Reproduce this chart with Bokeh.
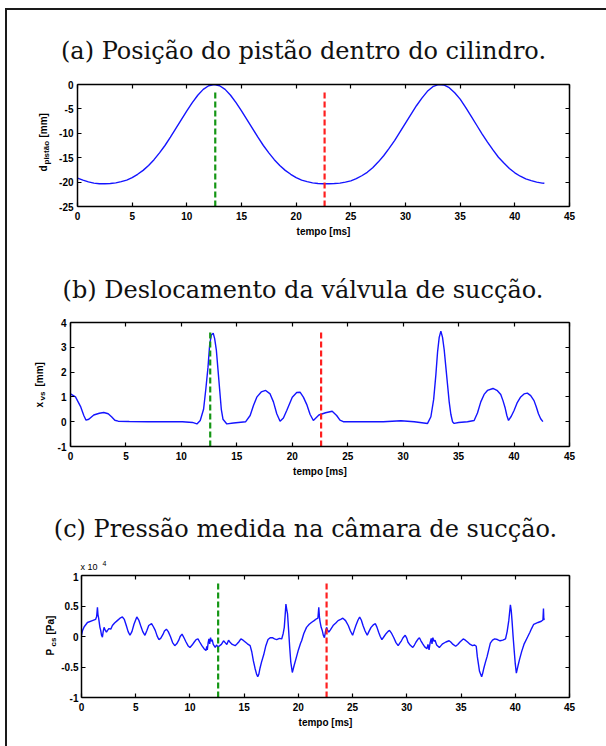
import math

from bokeh.plotting import figure
from bokeh.models import LinearAxis, FixedTicker, CustomJSTickFormatter, Range1d
from bokeh.layouts import column, row
from bokeh.core.properties import value
from bokeh.embed import file_html
from bokeh.resources import INLINE

# ---------------- data ----------------
# (a) piston position [mm] versus time [ms]
T_A = [0.0, 0.5, 1.0, 1.5, 2.0, 2.5, 3.0, 3.5, 4.0, 4.5, 5.0, 5.5, 6.0, 6.5, 7.0, 7.5,
       8.0, 8.5, 9.0, 9.5, 10.0, 10.5, 11.0, 11.5, 12.0, 12.5, 13.0, 13.5, 14.0, 14.5,
       15.0, 15.5, 16.0, 16.5, 17.0, 17.5, 18.0, 18.5, 19.0, 19.5, 20.0, 20.5, 21.0,
       21.5, 22.0, 22.5, 23.0, 23.5, 24.0, 24.5, 25.0, 25.5, 26.0, 26.5, 27.0, 27.5,
       28.0, 28.5, 29.0, 29.5, 30.0, 30.5, 31.0, 31.5, 32.0, 32.5, 33.0, 33.5, 34.0,
       34.5, 35.0, 35.5, 36.0, 36.5, 37.0, 37.5, 38.0, 38.5, 39.0, 39.5, 40.0, 40.5,
       41.0, 41.5, 42.0, 42.5, 42.7]
D_PISTAO = [-19.2, -19.6, -19.95, -20.2, -20.35, -20.35, -20.3, -20.15, -19.9, -19.6,
            -19.1, -18.4, -17.6, -16.6, -15.4, -14.0, -12.5, -10.8, -9.0, -7.2, -5.4,
            -3.7, -2.2, -1.0, -0.25, 0.0, -0.25, -1.0, -2.2, -3.7, -5.4, -7.2, -9.0,
            -10.8, -12.5, -14.0, -15.4, -16.6, -17.6, -18.4, -19.1, -19.6, -19.9,
            -20.15, -20.3, -20.35, -20.35, -20.3, -20.2, -20.0, -19.75, -19.3, -18.7,
            -18.0, -17.05, -15.9, -14.6, -13.1, -11.5, -9.7, -7.9, -6.1, -4.35, -2.8,
            -1.4, -0.45, -0.03, -0.1, -0.65, -1.7, -3.0, -4.7, -6.5, -8.3, -10.1,
            -11.8, -13.4, -14.9, -16.1, -17.2, -18.1, -18.8, -19.35, -19.7, -20.0,
            -20.2, -20.25]

# (b) suction valve displacement [mm]
T_B = [0.0, 0.45, 0.9, 1.2, 1.4, 1.65, 2.1, 2.6, 3.0, 3.4, 3.7, 4.0, 4.3, 5.3, 7.0,
       9.0, 10.1, 11.0, 11.4, 11.7, 12.0, 12.2, 12.4, 12.55, 12.7, 12.87, 13.0, 13.15,
       13.3, 13.45, 13.6, 13.75, 14.1, 14.7, 15.8, 16.2, 16.5, 16.8, 17.2, 17.6, 18.0,
       18.3, 18.6, 18.9, 19.2, 19.5, 20.0, 20.4, 20.7, 21.0, 21.3, 21.6, 21.9, 22.4,
       23.0, 23.6, 24.0, 24.3, 24.6, 26.0, 28.2, 29.8, 31.0, 32.2, 32.5, 32.75, 32.95,
       33.1, 33.25, 33.4, 33.55, 33.7, 33.85, 34.0, 34.15, 34.3, 34.45, 34.6, 35.0,
       35.8, 36.4, 36.7, 37.0, 37.3, 37.6, 38.1, 38.5, 38.8, 39.0, 39.2, 39.35, 39.5,
       39.75, 40.0, 40.3, 40.6, 40.9, 41.2, 41.5, 41.8, 42.0, 42.2, 42.4, 42.6]
X_VS = [1.12, 1.0, 0.62, 0.25, 0.06, 0.1, 0.27, 0.34, 0.37, 0.32, 0.2, 0.06, 0.02,
        0.01, 0.0, 0.0, 0.0, -0.03, -0.09, 0.05, 0.5, 1.3, 2.2, 3.1, 3.5, 3.57, 3.35,
        2.9, 2.1, 1.3, 0.5, 0.1, -0.09, -0.05, 0.0, 0.25, 0.65, 0.99, 1.2, 1.26, 1.12,
        0.8, 0.32, 0.02, 0.15, 0.45, 0.99, 1.18, 1.19, 0.99, 0.7, 0.3, 0.05, 0.27,
        0.36, 0.42, 0.25, 0.06, 0.0, 0.0, 0.0, 0.04, 0.0, -0.07, 0.2, 0.9, 1.9, 2.8,
        3.4, 3.65, 3.4, 2.9, 2.2, 1.5, 0.8, 0.3, 0.0, -0.07, -0.03, 0.0, 0.05, 0.35,
        0.8, 1.1, 1.26, 1.34, 1.25, 1.1, 0.85, 0.55, 0.25, 0.05, 0.22, 0.45, 0.78,
        1.0, 1.12, 1.15, 1.05, 0.85, 0.6, 0.32, 0.12, 0.0]

# (c) pressure in the suction chamber [x 10^4 Pa]
T_C = [0.0, 0.1, 0.25, 0.55, 1.0, 1.3, 1.4, 1.47, 1.52, 1.58, 1.7, 1.77, 1.85, 1.93,
       2.0, 2.08, 2.2, 2.3, 2.4, 2.54, 2.7, 2.85, 3.05, 3.3, 3.55, 3.77, 3.95, 4.13,
       4.3, 4.47, 4.65, 4.84, 5.1, 5.28, 5.45, 5.65, 5.85, 6.03, 6.2, 6.46, 6.63, 6.8,
       6.97, 7.13, 7.3, 7.5, 7.65, 7.83, 8.0, 8.2, 8.4, 8.6, 8.78, 8.97, 9.1, 9.27,
       9.45, 9.64, 9.82, 10.0, 10.2, 10.4, 10.57, 10.74, 10.9, 11.1, 11.3, 11.48,
       11.55, 11.6, 11.68, 11.75, 11.82, 11.9, 11.98, 12.05, 12.15, 12.33, 12.45,
       12.58, 12.75, 12.9, 13.1, 13.25, 13.4, 13.56, 13.72, 13.9, 14.17, 14.35, 14.5,
       14.7, 14.9, 15.1, 15.3, 15.55, 15.7, 15.85, 16.0, 16.15, 16.25, 16.35, 16.46,
       16.6, 16.8, 17.0, 17.2, 17.4, 17.6, 17.8, 18.0, 18.25, 18.46, 18.6, 18.7,
       18.78, 18.85, 18.92, 19.0, 19.1, 19.2, 19.3, 19.44, 19.6, 19.8, 20.0, 20.2,
       20.3, 20.5, 20.75, 21.0, 21.2, 21.45, 21.67, 21.8, 21.88, 21.95, 22.0, 22.1,
       22.2, 22.3, 22.4, 22.5, 22.6, 22.7, 22.8, 22.95, 23.2, 23.45, 23.66, 23.9,
       24.1, 24.35, 24.6, 24.8, 25.0, 25.15, 25.3, 25.5, 25.65, 25.8, 25.96, 26.15,
       26.35, 26.5, 26.7, 26.9, 27.1, 27.25, 27.4, 27.55, 27.7, 27.9, 28.1, 28.25,
       28.4, 28.6, 28.8, 29.0, 29.2, 29.35, 29.5, 29.65, 29.85, 30.0, 30.1, 30.3,
       30.55, 30.7, 30.85, 31.0, 31.16, 31.3, 31.47, 31.65, 31.86, 31.95, 32.05,
       32.15, 32.25, 32.32, 32.4, 32.5, 32.6, 32.75, 33.0, 33.15, 33.3, 33.6, 33.9,
       34.05, 34.2, 34.5, 34.7, 34.9, 35.2, 35.4, 35.6, 35.85, 36.06, 36.25, 36.4,
       36.5, 36.6, 36.7, 36.9, 37.0, 37.1, 37.25, 37.4, 37.55, 37.7, 37.9, 38.1,
       38.35, 38.6, 38.85, 39.1, 39.25, 39.4, 39.55, 39.63, 39.7, 39.8, 39.9, 40.0,
       40.1, 40.25, 40.4, 40.6, 40.8, 41.1, 41.35, 41.5, 41.7, 42.1, 42.4, 42.55,
       42.6, 42.63, 42.66]
P_CS = [0.02, 0.1, 0.16, 0.23, 0.26, 0.28, 0.33, 0.48, 0.36, 0.3, 0.15, 0.1, 0.02,
        -0.01, 0.08, 0.15, 0.1, 0.07, 0.1, 0.13, 0.12, 0.18, 0.22, 0.26, 0.3, 0.32,
        0.28, 0.18, 0.08, 0.02, 0.08, 0.2, 0.32, 0.27, 0.18, 0.08, 0.02, 0.1, 0.18,
        0.21, 0.16, 0.1, 0.01, -0.05, -0.03, 0.03, 0.09, 0.12, 0.08, 0.0, -0.1, -0.15,
        -0.12, -0.06, 0.0, 0.04, -0.02, -0.09, -0.15, -0.18, -0.14, -0.09, -0.05,
        -0.04, -0.09, -0.15, -0.2, -0.23, -0.16, -0.22, -0.1, -0.04, -0.12, -0.02,
        -0.08, -0.05, -0.13, -0.18, -0.14, -0.17, -0.15, -0.13, -0.07, -0.1, -0.13,
        -0.06, -0.1, -0.13, -0.15, -0.12, -0.09, -0.04, -0.06, -0.09, -0.12, -0.15,
        -0.25, -0.4, -0.52, -0.62, -0.66, -0.62, -0.52, -0.42, -0.3, -0.15, -0.05,
        -0.02, -0.02, -0.04, -0.05, -0.03, -0.04, 0.05, 0.15, 0.35, 0.53, 0.45, 0.37,
        0.1, -0.18, -0.42, -0.59, -0.48, -0.35, -0.22, -0.11, -0.07, 0.05, 0.15, 0.2,
        0.23, 0.26, 0.29, 0.3, 0.48, 0.3, 0.24, 0.15, 0.1, 0.02, -0.02, 0.08, 0.15,
        0.1, 0.07, 0.11, 0.18, 0.22, 0.26, 0.28, 0.3, 0.26, 0.18, 0.09, 0.02, 0.1,
        0.18, 0.27, 0.32, 0.27, 0.18, 0.09, 0.02, 0.08, 0.15, 0.19, 0.21, 0.15, 0.07,
        0.0, -0.05, 0.0, 0.05, 0.08, 0.1, 0.05, -0.02, -0.1, -0.15, -0.11, -0.07,
        -0.02, 0.02, -0.03, -0.09, -0.14, -0.18, -0.14, -0.09, -0.05, -0.02, -0.07,
        -0.12, -0.17, -0.2, -0.13, -0.22, -0.1, -0.03, -0.12, -0.02, -0.08, -0.06,
        -0.14, -0.18, -0.15, -0.12, -0.09, -0.07, -0.09, -0.12, -0.16, -0.13, -0.09,
        -0.04, -0.06, -0.09, -0.13, -0.15, -0.14, -0.16, -0.33, -0.45, -0.57, -0.66,
        -0.6, -0.52, -0.42, -0.33, -0.22, -0.11, -0.06, -0.04, -0.05, -0.07, -0.06,
        -0.04, 0.08, 0.26, 0.52, 0.42, 0.26, 0.0, -0.23, -0.45, -0.6, -0.48, -0.37,
        -0.24, -0.13, -0.02, 0.07, 0.13, 0.2, 0.23, 0.25, 0.27, 0.46, 0.3, 0.27]

# instants marked by the vertical dashed lines [ms]
T_MARK_GREEN = 12.6
T_MARK_RED = 22.6

X_TICKS = [0, 5, 10, 15, 20, 25, 30, 35, 40, 45]
A_YTICKS = [-25, -20, -15, -10, -5, 0]
B_YTICKS = [-1, 0, 1, 2, 3, 4]
C_YTICKS = [-1, -0.5, 0, 0.5, 1]

TITLES = ["(a) Posição do pistão dentro do cilindro.",
          "(b) Deslocamento da válvula de sucção.",
          "(c) Pressão medida na câmara de sucção."]

# ---------------- styling ----------------
BLUE = "#1414ff"
GREEN = "#149614"
RED = "#ff1f1f"
SANS = "Liberation Sans"
SERIF = "DejaVu Serif"
TOTAL_W = 599
UP = math.pi / 2


class Strip:
    """Axis-less figure used to place text; positions are pixels from the frame's top-left.

    span is the pixel height of the frame (a strip sitting in a row shares the
    vertical extent of its neighbour's frame)."""

    def __init__(self, width, height, span):
        self.span = span
        self.fig = figure(width=width, height=height, x_range=Range1d(0, width),
                          y_range=Range1d(0, span), min_border=0, title=None,
                          output_backend="svg", toolbar_location=None,
                          x_axis_location=None, y_axis_location=None,
                          background_fill_color="white", border_fill_color="white")
        self.fig.outline_line_color = None
        self.fig.grid.visible = False

    def text(self, x, y_down, txt, **kw):
        self.fig.text(x=[x], y=[self.span - y_down], text=[txt], text_baseline="middle",
                      text_color=kw.pop("text_color", "black"), **kw)


def title_strip(height, title, cx, cy):
    s = Strip(TOTAL_W, height, height)
    s.text(cx, cy, title, text_align="center", text_font=value(SERIF),
           text_font_size="24px", text_color="#111111")
    return s


def ylabel_strip(width, height, frame_h, pieces):
    s = Strip(width, height, frame_h)
    for txt, x, y, size in pieces:
        s.text(x, y, txt, angle=UP, text_align="left", text_font=value(SANS),
               text_font_style="bold", text_font_size=size)
    return s


def panel(width, height, borders, yrange, yticks, ystandoff):
    left, right, top, bottom = borders
    p = figure(width=width, height=height, x_range=Range1d(0, 45), y_range=Range1d(*yrange),
               min_border_left=left, min_border_right=right, min_border_top=top,
               min_border_bottom=bottom, title=None, output_backend="svg",
               toolbar_location=None, background_fill_color="white",
               border_fill_color="white")
    p.outline_line_color = None
    p.grid.visible = False
    fmt = CustomJSTickFormatter(code="return String(tick)")
    p.xaxis[0].formatter = fmt
    p.yaxis[0].formatter = fmt
    p.xaxis.ticker = FixedTicker(ticks=X_TICKS)
    p.yaxis.ticker = FixedTicker(ticks=yticks)
    p.add_layout(LinearAxis(ticker=FixedTicker(ticks=X_TICKS)), "above")
    p.add_layout(LinearAxis(ticker=FixedTicker(ticks=yticks)), "right")
    for ax in p.axis:
        ax.axis_line_color = "black"
        ax.axis_line_width = 1.5
        ax.major_tick_line_color = "black"
        ax.major_tick_line_width = 1.2
        ax.major_tick_in = 4
        ax.major_tick_out = 0
        ax.minor_tick_line_color = None
        ax.major_label_text_font = SANS
        ax.major_label_text_font_style = "bold"
        ax.major_label_text_font_size = "10px"
        ax.major_label_text_color = "black"
    for ax in p.above + p.right:
        ax.major_label_text_color = None
        ax.major_label_text_font_size = "0px"
        ax.major_label_standoff = 0
    p.xaxis[0].major_label_standoff = 6
    p.yaxis[0].major_label_standoff = ystandoff
    xb = p.below[0]
    xb.axis_label = "tempo [ms]"
    xb.axis_label_text_font = SANS
    xb.axis_label_text_font_style = "bold"
    xb.axis_label_text_font_size = "10px"
    xb.axis_label_text_color = "black"
    xb.axis_label_standoff = 3
    return p


def marks(p, ybottom, ytop):
    p.segment(x0=[T_MARK_GREEN], y0=[ybottom], x1=[T_MARK_GREEN], y1=[ytop],
              line_color=GREEN, line_width=2.2, line_dash="6 3")
    p.segment(x0=[T_MARK_RED], y0=[ybottom], x1=[T_MARK_RED], y1=[ytop],
              line_color=RED, line_width=2.2, line_dash="6 3")


# (a) piston position
ta = title_strip(68, TITLES[0], 296, 40.5)
la = ylabel_strip(48, 184, 122, [("d", 35.5, 87, "10px"), ("pistão", 39, 80, "8px"),
                                 ("[mm]", 35.5, 53, "10px")])
pa = panel(TOTAL_W - 48, 184, (22, 37, 6, 56), (-25, 0), A_YTICKS, 4)
pa.line(T_A, D_PISTAO, line_color=BLUE, line_width=1.4)
marks(pa, -25, -1.0)

# (b) suction valve displacement
tb = title_strip(54, TITLES[1], 295.5, 27.5)
lb = ylabel_strip(46, 192, 124, [("x", 31.5, 85, "10px"), ("vs", 35, 78, "8px"),
                                 ("[mm]", 31.5, 64, "10px")])
pb = panel(TOTAL_W - 46, 192, (17, 37, 6, 62), (-1, 4), B_YTICKS, 4)
pb.line(T_B, X_VS, line_color=BLUE, line_width=1.4)
marks(pb, -1, 3.7)

# (c) suction chamber pressure, with the x 10^4 multiplier above the axis
tc = title_strip(64, TITLES[2], 298, 20.5)
tc.text(73, 58, "x 10", text_align="left", text_font=value(SANS), text_font_size="9px")
tc.text(95, 54.5, "4", text_align="left", text_font=value(SANS), text_font_size="7px")
lc = ylabel_strip(51, 174, 122, [("P", 42.5, 80, "10px"), ("cs", 46, 71, "8px"),
                                 ("[Pa]", 42.5, 59, "10px")])
pc = panel(TOTAL_W - 51, 174, (21, 37, 3, 49), (-1, 1), C_YTICKS, 3)
pc.line(T_C, P_CS, line_color=BLUE, line_width=1.4)
marks(pc, -1, 0.87)

layout = column(ta.fig, row(la.fig, pa, spacing=0), tb.fig, row(lb.fig, pb, spacing=0),
                tc.fig, row(lc.fig, pc, spacing=0), spacing=0,
                styles={"margin-left": "5px", "margin-top": "8px",
                        "border-left": "2px solid #1a1a1a", "border-top": "2px solid #1a1a1a"})

open("out.html", "w").write(file_html(layout, INLINE))
